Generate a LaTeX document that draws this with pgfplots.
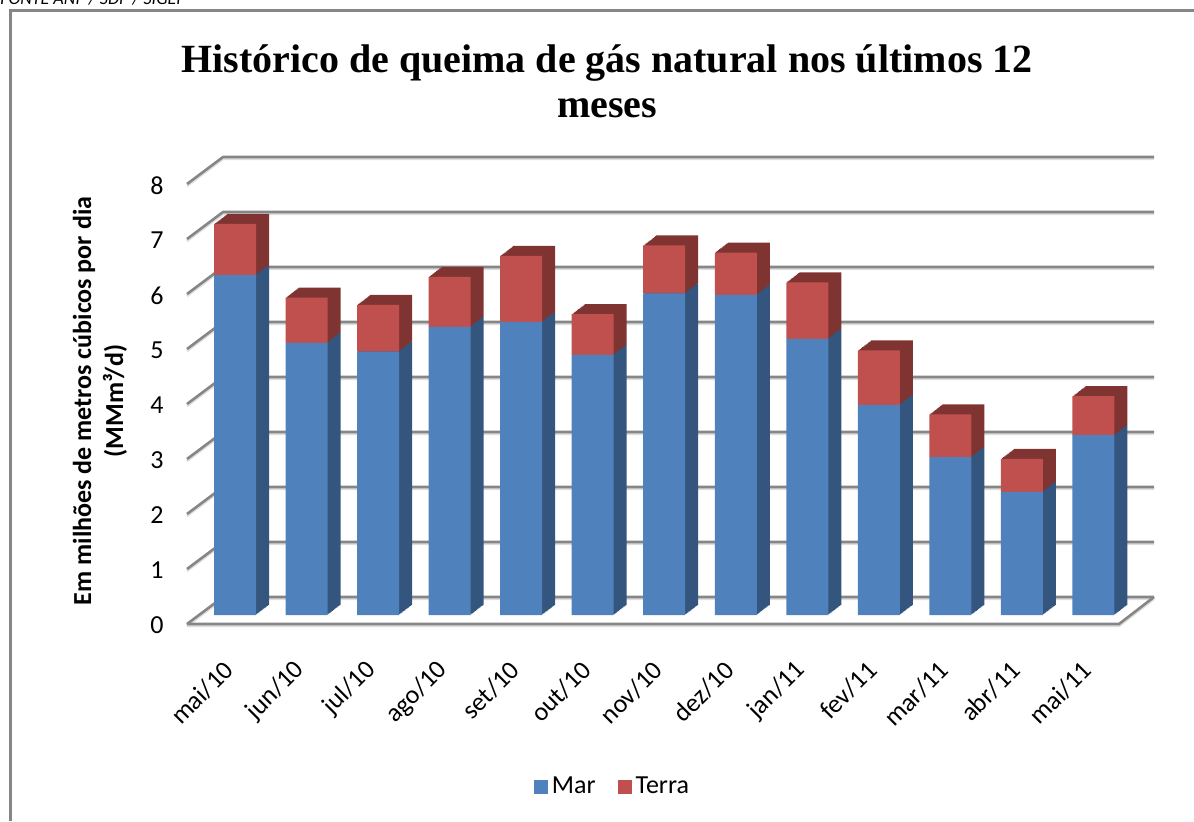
\documentclass[border=0pt]{standalone}
\usepackage{fontspec}
\setmainfont{Carlito}
\newfontfamily\titlefont{Liberation Serif}
\usepackage{pgfplots}
\usepackage{pgfplotstable}
\pgfplotsset{compat=1.18}
\definecolor{marF}{RGB}{79,129,189}
\definecolor{terF}{RGB}{192,80,77}
\definecolor{marB}{RGB}{52,85,126}
\definecolor{terB}{RGB}{128,52,50}
\definecolor{terT}{RGB}{142,59,57}
\definecolor{gridc}{RGB}{134,134,134}
\definecolor{gridl}{RGB}{222,222,222}
\definecolor{framec}{RGB}{134,134,134}

\pgfplotstableread{
i mar terra
0 6.18 0.93
1 4.95 0.82
2 4.79 0.85
3 5.24 0.91
4 5.33 1.20
5 4.73 0.74
6 5.85 0.87
7 5.82 0.77
8 5.02 1.03
9 3.82 0.99
10 2.87 0.78
11 2.24 0.60
12 3.27 0.71
}\datatable

\pgfplotsset{
  base/.style={x=35.77pt, y=27.5pt, anchor=origin, clip=false,
    xmin=-0.671, xmax=12.846, ymin=-0.927, ymax=8.327},
  bars/.style={base, hide axis, ybar stacked, bar width=21pt},
}
\tikzset{
  gl/.style={gridc, line width=1.3pt, line join=round},
  gs/.style={gridl, line width=1pt, yshift=-1.1pt},
}

\begin{document}
\begin{tikzpicture}
\useasboundingbox (0pt,0pt) rectangle (597pt,410.5pt);
% frame
\draw[framec, line width=1.25pt] (5.25pt,0pt) -- (5.25pt,405.25pt) -- (597pt,405.25pt);
\node[anchor=base west, inner sep=0pt, font=\itshape\fontsize{9}{10}\selectfont] at (0pt,408pt) {FONTE ANP / SDP / SIGEP};
% title
\node[anchor=base, inner sep=0pt, font=\titlefont\bfseries\fontsize{20}{24}\selectfont] at (303.5pt,374pt) {Histórico de queima de gás natural nos últimos 12};
\node[anchor=base, inner sep=0pt, font=\titlefont\bfseries\fontsize{20}{24}\selectfont] at (303.5pt,351.5pt) {meses};
% y label
\node[rotate=90, align=center, inner sep=0pt, font=\bfseries\fontsize{13}{16}\selectfont] at (50pt,210pt) {Em milhões de metros cúbicos por dia\\(MMm³/d)};

% walls, grid and tick labels
\begin{axis}[base, at={(117.5pt,103pt)},
  axis line style={draw=none}, major tick length=0pt,
  xtick={0,...,12},
  xticklabels={mai/10,jun/10,jul/10,ago/10,set/10,out/10,nov/10,dez/10,jan/11,fev/11,mar/11,abr/11,mai/11},
  ytick={0,...,8},
  xticklabel style={xshift=-3pt, rotate=45, anchor=east, inner sep=0pt, font=\fontsize{13}{15}\selectfont},
  yticklabel style={anchor=east, inner sep=0pt, xshift=-11.5pt, yshift=-5.25pt, font=\fontsize{13}{15}\selectfont},
  /pgf/number format/assume math mode=true]
  \pgfplotsinvokeforeach{gs,gl}{
  \draw[#1] (-0.671,-0.164) -- (-0.168,0.327) -- (12.846,0.327);
  \draw[#1] (-0.671,0.836) -- (-0.168,1.327) -- (12.846,1.327);
  \draw[#1] (-0.671,1.836) -- (-0.168,2.327) -- (12.846,2.327);
  \draw[#1] (-0.671,2.836) -- (-0.168,3.327) -- (12.846,3.327);
  \draw[#1] (-0.671,3.836) -- (-0.168,4.327) -- (12.846,4.327);
  \draw[#1] (-0.671,4.836) -- (-0.168,5.327) -- (12.846,5.327);
  \draw[#1] (-0.671,5.836) -- (-0.168,6.327) -- (12.846,6.327);
  \draw[#1] (-0.671,6.836) -- (-0.168,7.327) -- (12.846,7.327);
  \draw[#1] (-0.671,7.836) -- (-0.168,8.327) -- (12.846,8.327);
  \draw[#1] (-0.671,-0.164) -- (12.357,-0.164) -- (12.846,0.327);
  }
\end{axis}

% depth copies (side and top faces), back to front
\foreach \k in {12,11,...,1}{
\begin{axis}[bars, at={({117.5pt+\k*6.5pt/12},{103pt+\k*5pt/12})}]
  \addplot[fill=marB, draw=none] table[x=i,y=mar]{\datatable};
  \addplot[fill=terB, draw=none] table[x=i,y=terra]{\datatable};
\end{axis}
}

% front faces and legend
\begin{axis}[bars, at={(117.5pt,103pt)},
  legend columns=2,
  legend style={draw=none, fill=none, at={(0.441,-0.2377)}, anchor=center,
    font=\fontsize{13}{15}\selectfont,
    /tikz/every even column/.append style={column sep=9pt}},
  legend image code/.code={\fill[#1] (0pt,-3.5pt) rectangle (7pt,3.5pt);}]
  \addplot[fill=marF, draw=none] table[x=i,y=mar]{\datatable};
  \addplot[fill=terF, draw=none] table[x=i,y=terra]{\datatable};
  \legend{Mar,Terra}
\end{axis}
\end{tikzpicture}
\end{document}
